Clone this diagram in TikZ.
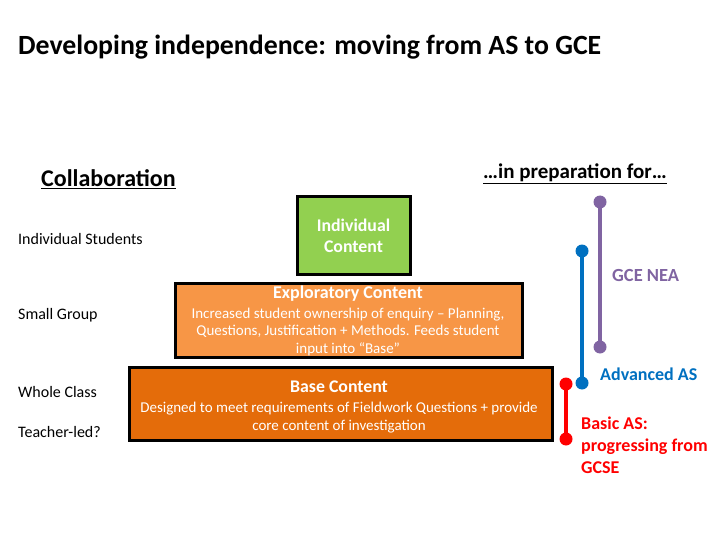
\documentclass[tikz,border=0pt]{standalone}
\usepackage{fontspec}
\setmainfont{Carlito}
\definecolor{cgreen}{HTML}{92D050}
\definecolor{corange}{HTML}{F79646}
\definecolor{cdark}{HTML}{E46C0A}
\definecolor{cpurple}{HTML}{8064A2}
\definecolor{cblue}{HTML}{0070C0}
\definecolor{cred}{HTML}{FF0000}
\begin{document}
\begin{tikzpicture}[x=1pt,y=-1pt,
  lbl/.style={anchor=west,inner sep=0pt,font=\fontsize{16}{18}\selectfont},
  boxs/.style={draw=black,line width=3pt},
  wt/.style={text=white,align=center,inner sep=0pt},
  bar/.style={line width=4pt},
  dotn/.style={circle,inner sep=0pt,minimum size=13pt}]
\useasboundingbox (0,0) rectangle (720,540);
\node[anchor=west,inner sep=0pt,font=\bfseries\fontsize{27.8}{30}\selectfont] (title) at (18,47) {Developing independence: moving from AS to GCE};
\node[anchor=west,inner sep=0pt,font=\bfseries\fontsize{24}{28}\selectfont] (collab) at (41,179) {\underline{Collaboration}};
\node[anchor=west,inner sep=0pt,font=\bfseries\fontsize{21}{24}\selectfont] (prep) at (483,174) {\underline{…in preparation for…}};
\node[lbl] (ind) at (18,239) {Individual Students};
\node[lbl] (small) at (18,315) {Small Group};
\node[lbl] (whole) at (18,392) {Whole Class};
\node[lbl] (teach) at (18,432) {Teacher-led?};
% boxes
\fill[cgreen] (297,197) rectangle (410,274);
\draw[boxs] (297,197) rectangle (410,274);
\node[wt,font=\bfseries\fontsize{17.8}{21.5}\selectfont] (indc) at (353.5,236) {Individual\\Content};
\fill[corange] (175,283) rectangle (522,357);
\draw[boxs] (175,283) rectangle (522,357);
\node[wt,font=\bfseries\fontsize{18}{20}\selectfont] (expt) at (348,294) {Exploratory Content};
\node[wt,font=\fontsize{15}{17.5}\selectfont] (expb) at (348,331.5) {Increased student ownership of enquiry – Planning,\\Questions, Justification + Methods. Feeds student\\input into “Base”};
\fill[cdark] (129,367) rectangle (552,440);
\draw[boxs] (129,367) rectangle (552,440);
\node[wt,font=\bfseries\fontsize{17.8}{20}\selectfont] (baset) at (339,387) {Base Content};
\node[wt,font=\fontsize{15}{18}\selectfont] (baseb) at (339,418) {Designed to meet requirements of Fieldwork Questions + provide\\core content of investigation};
% bars
\node[dotn,fill=cpurple] (p1) at (600,202) {};
\node[dotn,fill=cpurple] (p2) at (600,347) {};
\draw[bar,cpurple] (p1.center) -- (p2.center);
\node[dotn,fill=cblue] (b1) at (582,251) {};
\node[dotn,fill=cblue] (b2) at (582,383) {};
\draw[bar,cblue] (b1.center) -- (b2.center);
\node[dotn,fill=cred] (r1) at (566,384) {};
\node[dotn,fill=cred] (r2) at (566,439) {};
\draw[bar,cred] (r1.center) -- (r2.center);
\node[anchor=west,inner sep=0pt,text=cpurple,font=\bfseries\fontsize{18.5}{20}\selectfont] (nea) at (612,275) {GCE NEA};
\node[anchor=west,inner sep=0pt,text=cblue,font=\bfseries\fontsize{18}{20}\selectfont] (adv) at (600,374) {Advanced AS};
\node[anchor=north west,inner sep=0pt,align=left,text=cred,font=\bfseries\fontsize{18}{22}\selectfont] (basic) at (581,417) {Basic AS:\\progressing from\\GCSE};
\end{tikzpicture}
\end{document}
